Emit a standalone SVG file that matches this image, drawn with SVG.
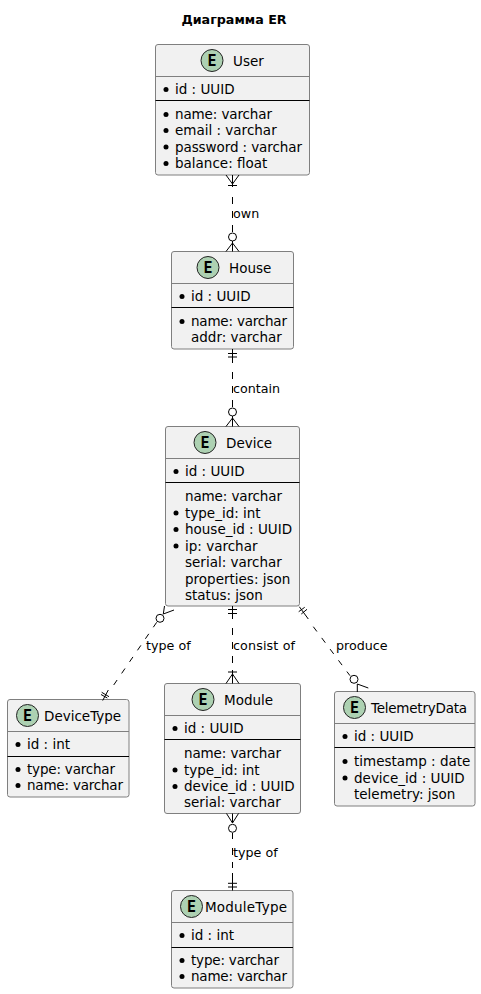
<svg xmlns="http://www.w3.org/2000/svg" width="481" height="994" viewBox="0 0 481 994">
<style>
text{font-family:"DejaVu Sans",sans-serif;font-size:13.5px;fill:#000}
.title{font-weight:bold;font-size:12.7px}
.box{fill:#f1f1f1;stroke:#7f7f7f;stroke-width:1}
.hd{stroke:#7f7f7f;stroke-width:1}
.sep{stroke:#000;stroke-width:1}
.circ{fill:#add1b2;stroke:#222;stroke-width:1}
.e{font-family:"DejaVu Sans Mono",monospace;font-weight:bold;font-size:15px;text-anchor:middle}
.lb{font-size:12.7px}
.c{fill:none;stroke:#000;stroke-width:1}
.d{stroke-dasharray:7 7}
.o{fill:#fff;stroke:#000;stroke-width:1}
.dot{fill:#000}
</style>
<text class="title" x="234" y="24" text-anchor="middle">Диаграмма ER</text>
<g id="User"><rect class="box" x="155.500" y="44.500" width="154" height="130.500" rx="2.500"/><path class="hd" d="M155.500 76.500H309.500"/><path class="sep" d="M155.500 100.500H309.500"/><circle class="circ" cx="212" cy="60.500" r="11"/><text class="e" x="212" y="66">E</text><text x="233" y="65.500">User</text>
<circle class="dot" cx="166" cy="89.500" r="2.500"/><text x="175" y="94">id : UUID</text><circle class="dot" cx="166" cy="114.500" r="2.500"/><text x="175" y="119" textLength="97">name: varchar</text><circle class="dot" cx="166" cy="130.500" r="2.500"/><text x="175" y="135">email : varchar</text><circle class="dot" cx="166" cy="147" r="2.500"/><text x="175" y="151.500" textLength="127">password : varchar</text><circle class="dot" cx="166" cy="163.500" r="2.500"/><text x="175" y="168">balance: float</text></g>
<g id="House"><rect class="box" x="171.500" y="251.500" width="122" height="97.500" rx="2.500"/><path class="hd" d="M171.500 283.500H293.500"/><path class="sep" d="M171.500 307.500H293.500"/><circle class="circ" cx="208" cy="267.500" r="11"/><text class="e" x="208" y="273">E</text><text x="229" y="272.500">House</text>
<circle class="dot" cx="182" cy="296.500" r="2.500"/><text x="191" y="301">id : UUID</text><circle class="dot" cx="182" cy="321.500" r="2.500"/><text x="191" y="326" textLength="96">name: varchar</text><text x="191" y="342">addr: varchar</text></g>
<g id="Device"><rect class="box" x="165.500" y="426.500" width="134" height="179.500" rx="2.500"/><path class="hd" d="M165.500 458.500H299.500"/><path class="sep" d="M165.500 482.500H299.500"/><circle class="circ" cx="205" cy="442.500" r="11"/><text class="e" x="205" y="448">E</text><text x="226" y="447.500">Device</text>
<circle class="dot" cx="176" cy="471.500" r="2.500"/><text x="185" y="476">id : UUID</text><text x="185" y="501" textLength="97">name: varchar</text><circle class="dot" cx="176" cy="513" r="2.500"/><text x="185" y="517.500">type_id: int</text><circle class="dot" cx="176" cy="529.500" r="2.500"/><text x="185" y="534">house_id : UUID</text><circle class="dot" cx="176" cy="546" r="2.500"/><text x="185" y="550.500">ip: varchar</text><text x="185" y="567">serial: varchar</text><text x="185" y="583.500">properties: json</text><text x="185" y="600">status: json</text></g>
<g id="DeviceType"><rect class="box" x="7.500" y="699.500" width="121.500" height="97.500" rx="2.500"/><path class="hd" d="M7.500 731.500H129"/><path class="sep" d="M7.500 756.500H129"/><circle class="circ" cx="27.500" cy="715.500" r="11"/><text class="e" x="27.500" y="721">E</text><text x="44" y="720.500">DeviceType</text>
<circle class="dot" cx="18" cy="744.500" r="2.500"/><text x="27" y="749">id : int</text><circle class="dot" cx="18" cy="769.500" r="2.500"/><text x="27" y="774" textLength="88">type: varchar</text><circle class="dot" cx="18" cy="785.500" r="2.500"/><text x="27" y="790" textLength="96">name: varchar</text></g>
<g id="Module"><rect class="box" x="164.500" y="683.500" width="136" height="130" rx="2.500"/><path class="hd" d="M164.500 715.500H300.500"/><path class="sep" d="M164.500 739.500H300.500"/><circle class="circ" cx="203" cy="699.500" r="11"/><text class="e" x="203" y="705">E</text><text x="224" y="704.500">Module</text>
<circle class="dot" cx="175" cy="728.500" r="2.500"/><text x="184" y="733">id : UUID</text><text x="184" y="758" textLength="97">name: varchar</text><circle class="dot" cx="175" cy="770" r="2.500"/><text x="184" y="774.500">type_id: int</text><circle class="dot" cx="175" cy="786.500" r="2.500"/><text x="184" y="791">device_id : UUID</text><text x="184" y="807">serial: varchar</text></g>
<g id="TelemetryData"><rect class="box" x="334.500" y="691.500" width="140.500" height="114.500" rx="2.500"/><path class="hd" d="M334.500 723.500H475"/><path class="sep" d="M334.500 747.500H475"/><circle class="circ" cx="354.500" cy="707.500" r="11"/><text class="e" x="354.500" y="713">E</text><text x="371" y="712.500" textLength="96">TelemetryData</text>
<circle class="dot" cx="345" cy="736.500" r="2.500"/><text x="354" y="741">id : UUID</text><circle class="dot" cx="345" cy="761.500" r="2.500"/><text x="354" y="766">timestamp : date</text><circle class="dot" cx="345" cy="778" r="2.500"/><text x="354" y="782.500">device_id : UUID</text><text x="354" y="799">telemetry: json</text></g>
<g id="ModuleType"><rect class="box" x="171.500" y="890.500" width="121.500" height="97.500" rx="2.500"/><path class="hd" d="M171.500 922.500H293"/><path class="sep" d="M171.500 947.500H293"/><circle class="circ" cx="191.500" cy="906.500" r="11"/><text class="e" x="191.500" y="912">E</text><text x="205" y="911.500" textLength="82">ModuleType</text>
<circle class="dot" cx="182" cy="935.500" r="2.500"/><text x="191" y="940">id : int</text><circle class="dot" cx="182" cy="960.500" r="2.500"/><text x="191" y="965" textLength="88">type: varchar</text><circle class="dot" cx="182" cy="976.500" r="2.500"/><text x="191" y="981" textLength="96">name: varchar</text></g>
<g id="connectors">
<path class="c d" d="M232.500 197V232"/><path class="c" d="M226 175L232.500 184L239 175M232.500 175V187M228 185.500H237"/><circle class="o" cx="232.500" cy="237" r="4"/><path class="c" d="M226 251.500L232.500 243L239 251.500M232.500 241V251.500"/>
<path class="c d" d="M232.500 372V407"/><path class="c" d="M232.500 349V363M228 353.500H237M228 357H237"/><circle class="o" cx="232.500" cy="412" r="4"/><path class="c" d="M226 426.500L232.500 418L239 426.500M232.500 416V426.500"/>
<path class="c d" d="M232.500 628V670"/><path class="c" d="M232.500 606V619M228 609.500H237M228 613.500H237"/><path class="c" d="M226 683.500L232.500 674L239 683.500M228 672H237M232.500 670V683.500"/>
<path class="c" stroke-dasharray="6 8" d="M156.700 622.300L113 686"/><circle class="o" cx="160" cy="618.300" r="4"/><path class="c" d="M164.500 606L163.300 614L174 610"/><path class="c" d="M108.300 690L102.700 700.500M101.700 692.300L109 696.700M101 694.500L107.300 698"/>
<path class="c" stroke-dasharray="6 8" d="M313.300 626.700L350 675.700"/><path class="c" d="M299.300 606.700L308.300 619M298.700 611.700L304.700 607.300M301.300 614L307 609.300"/><circle class="o" cx="354" cy="679.300" r="4"/><path class="c" d="M357.300 692V684L368.300 688"/>
<path class="c d" d="M232.500 848V868"/><path class="c" d="M232.500 833V839M232.500 873V890.500M228 883.300H237M228 887H237"/><path class="c" d="M226.500 813.500L232.500 823L238.500 813.500M232.500 813.500V823"/><circle class="o" cx="232.500" cy="828.300" r="4"/>
</g>
<g id="labels"><text class="lb" x="233" y="218">own</text><text class="lb" x="233" y="393">contain</text><text class="lb" x="146" y="650">type of</text><text class="lb" x="233" y="650" textLength="62">consist of</text><text class="lb" x="336" y="650">produce</text><text class="lb" x="233" y="857">type of</text></g>
</svg>
